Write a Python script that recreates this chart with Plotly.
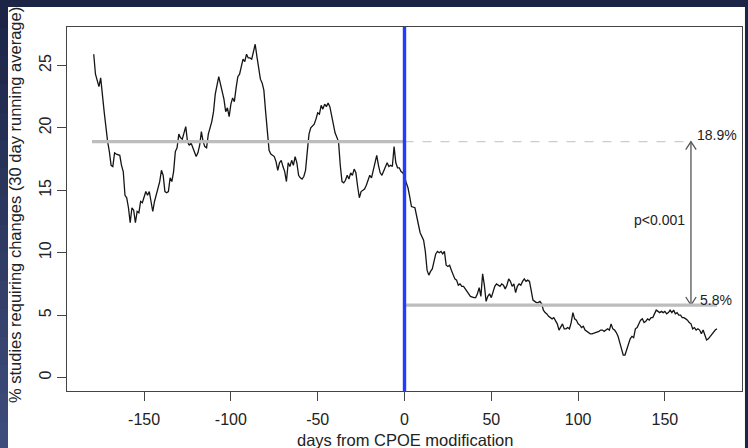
import plotly.graph_objects as go

# 30-day running average of studies requiring changes, by day relative to the CPOE modification
days_pre = [
    -179, -178, -176, -175, -173, -172, -171, -170, -169, -168, -167, -166, -164, -163, -162,
    -161, -160, -159, -158, -157, -156, -155, -154, -153, -152, -151, -150, -149, -148, -147,
    -146, -145, -144, -143, -142, -141, -140, -139, -138, -137, -136, -135, -134, -133, -132,
    -131, -130, -129, -128, -127, -126, -125, -124, -123, -122, -121, -120, -119, -118, -117,
    -116, -115, -114, -113, -112, -111, -110, -109, -107, -106, -105, -104, -103, -102, -101,
    -100, -99, -98, -97, -96, -95, -94, -93, -92, -91, -90, -89, -88, -87, -86,
    -85, -84, -83, -82, -81, -80, -79, -78, -77, -76, -75, -74, -73, -72, -71,
    -70, -69, -68, -67, -66, -65, -64, -63, -62, -61, -60, -59, -58, -57, -56,
    -55, -54, -53, -52, -51, -50, -49, -48, -47, -46, -45, -44, -43, -42, -41,
    -40, -39, -38, -37, -36, -35, -34, -33, -32, -31, -30, -29, -28, -27, -26,
    -25, -24, -23, -22, -21, -20, -19, -18, -17, -16, -15, -14, -13, -12, -11,
    -10, -9, -8, -7, -6, -5, -4, -3, -2, -1, 0,
]
pct_pre = [
    25.9, 24.3, 23.3, 24.0, 21.3, 20.0, 18.9, 18.1, 17.0, 16.9, 18.0, 17.9, 17.8, 17.0, 16.5,
    14.6, 14.4, 13.6, 12.4, 13.6, 13.4, 12.4, 13.3, 13.2, 14.1, 14.0, 14.4, 14.9, 14.6, 14.9,
    14.1, 13.3, 14.1, 14.6, 15.2, 15.7, 16.6, 16.2, 14.9, 14.8, 14.9, 16.0, 15.7, 16.5, 18.1,
    18.4, 19.5, 19.2, 19.1, 19.7, 20.1, 18.9, 18.6, 18.8, 18.4, 18.1, 17.7, 18.0, 18.6, 19.7,
    18.9, 18.5, 18.4, 19.5, 20.0, 20.5, 21.3, 22.7, 24.1, 23.5, 23.1, 22.3, 21.3, 21.6, 20.9,
    21.9, 22.4, 22.1, 23.2, 24.1, 24.3, 24.8, 25.5, 25.3, 25.9, 25.6, 25.6, 25.5, 26.2, 26.7,
    25.7, 24.8, 23.9, 23.6, 23.0, 21.3, 19.6, 18.2, 17.9, 17.8, 17.7, 17.3, 16.6, 17.2, 17.4,
    16.9, 16.5, 15.7, 17.2, 16.9, 17.4, 17.0, 17.7, 17.2, 16.2, 16.0, 15.9, 16.1, 16.6, 18.1,
    19.5, 20.0, 20.2, 20.3, 20.7, 21.2, 21.1, 21.8, 21.5, 21.9, 21.7, 22.0, 21.7, 21.1, 20.3,
    19.6, 19.3, 18.9, 17.0, 15.7, 15.6, 15.8, 16.2, 15.9, 16.4, 16.2, 16.7, 16.4, 15.3, 14.4,
    14.9, 15.0, 15.1, 15.4, 15.8, 16.2, 16.0, 16.6, 17.0, 17.8, 17.0, 16.4, 16.2, 16.5, 16.9,
    17.2, 16.9, 17.0, 16.9, 18.5, 17.2, 16.8, 16.8, 16.5, 16.4, 16.1,
]
days_post = [
    1, 2, 3, 4, 6, 7, 8, 9, 11, 12, 13, 14, 15, 16, 17,
    18, 19, 20, 21, 22, 23, 24, 25, 26, 27, 28, 29, 30, 31, 32,
    33, 34, 35, 36, 37, 38, 40, 41, 42, 43, 44, 45, 46, 47, 48,
    49, 50, 51, 52, 53, 54, 55, 56, 57, 58, 59, 60, 61, 62, 63,
    64, 65, 66, 67, 68, 69, 70, 71, 72, 73, 74, 75, 76, 77, 78,
    79, 80, 81, 82, 83, 84, 85, 86, 87, 88, 89, 90, 91, 92, 93,
    94, 95, 96, 97, 98, 99, 100, 101, 102, 103, 104, 105, 106, 107, 108,
    110, 111, 112, 113, 114, 115, 116, 117, 118, 119, 120, 121, 122, 123, 124,
    125, 126, 127, 128, 129, 130, 131, 132, 133, 134, 135, 136, 137, 138, 139,
    140, 141, 142, 143, 144, 145, 146, 147, 148, 149, 150, 151, 152, 153, 154,
    155, 156, 157, 158, 159, 160, 161, 162, 163, 164, 165, 166, 167, 168, 169,
    170, 171, 172, 173, 174, 175, 176, 177, 178, 179, 180,
]
pct_post = [
    15.6, 15.2, 14.5, 13.7, 13.6, 12.9, 12.0, 11.6, 11.0, 10.1, 8.6, 8.2, 8.5, 8.7, 9.3,
    9.9, 10.1, 10.0, 10.1, 9.9, 10.1, 9.0, 8.9, 9.0, 8.6, 8.2, 7.9, 7.8, 7.4, 7.5,
    7.3, 7.3, 7.1, 6.9, 6.6, 6.5, 6.4, 6.4, 6.7, 7.2, 6.5, 8.3, 7.4, 6.1, 6.5,
    6.7, 6.4, 6.9, 7.3, 7.5, 7.4, 7.3, 7.5, 7.4, 7.1, 7.4, 7.9, 7.7, 7.3, 7.5,
    6.8, 7.3, 7.5, 7.4, 7.7, 7.9, 7.7, 7.8, 7.7, 7.0, 6.2, 6.1, 6.0, 6.0, 6.1,
    5.9, 5.4, 5.2, 5.1, 4.9, 4.8, 4.7, 4.8, 4.6, 4.3, 3.8, 4.0, 4.3, 3.9, 3.9,
    4.0, 3.9, 4.4, 5.2, 4.7, 4.6, 4.3, 4.2, 4.0, 4.1, 3.8, 3.7, 3.6, 3.5, 3.5,
    3.6, 3.6, 3.7, 3.8, 3.8, 3.7, 3.8, 3.9, 3.8, 4.3, 3.9, 3.8, 3.6, 3.3, 2.8,
    2.3, 1.8, 1.8, 2.2, 2.7, 3.1, 3.3, 3.2, 3.9, 4.0, 4.3, 4.6, 4.7, 4.4, 4.5,
    4.7, 4.6, 4.8, 4.8, 5.1, 5.4, 5.3, 5.2, 5.3, 5.2, 5.3, 5.1, 5.2, 5.4, 5.2,
    5.4, 5.1, 5.2, 5.0, 5.0, 4.8, 4.8, 4.7, 4.6, 4.4, 4.3, 3.9, 4.0, 3.8, 3.9,
    3.8, 3.5, 3.8, 3.4, 3.0, 3.1, 3.3, 3.5, 3.6, 3.8, 3.9,
]

# Period means and annotation settings
mean_pre = 18.9
mean_post = 5.8
period_start, switch_day, period_end = -180, 0, 180
arrow_day = 165
p_label = "p<0.001"

x_ticks = [-150, -100, -50, 0, 50, 100, 150]
y_ticks = [0, 5, 10, 15, 20, 25]
x_range = [-194.4, 194.4]
y_range = [-1.08, 28.08]

FONT = "Liberation Sans, Arial, Helvetica, sans-serif"
GRAY = "#bdbdbd"
ARROW = "#555555"
TEXT = "#222222"

fig = go.Figure()

fig.add_trace(go.Scatter(
    x=days_pre + days_post, y=pct_pre + pct_post, mode="lines",
    line=dict(color="#151515", width=1.3), hoverinfo="skip", showlegend=False,
))

# double-headed arrow between the two period means
head_w, head_h = 3.0, 0.65
fig.add_trace(go.Scatter(
    x=[arrow_day, arrow_day], y=[mean_post, mean_pre], mode="lines",
    line=dict(color=ARROW, width=1.3), hoverinfo="skip", showlegend=False,
))
fig.add_trace(go.Scatter(
    x=[arrow_day - head_w, arrow_day, arrow_day + head_w],
    y=[mean_pre - head_h, mean_pre, mean_pre - head_h], mode="lines",
    line=dict(color=ARROW, width=1.3), hoverinfo="skip", showlegend=False,
))
fig.add_trace(go.Scatter(
    x=[arrow_day - head_w, arrow_day, arrow_day + head_w],
    y=[mean_post + head_h, mean_post, mean_post + head_h], mode="lines",
    line=dict(color=ARROW, width=1.3), hoverinfo="skip", showlegend=False,
))

# page frame: dark band on top, left strip shading from navy to slate blue
frame_shapes = []
n_steps = 16
top_rgb, bot_rgb = (0x1c, 0x25, 0x46), (0x3e, 0x4c, 0x7b)
y_top, y_bot = 1.075, -0.16
for i in range(n_steps):
    t = i / (n_steps - 1)
    rgb = tuple(round(a + (b - a) * t) for a, b in zip(top_rgb, bot_rgb))
    y1 = y_top + (y_bot - y_top) * i / n_steps
    y0 = y_top + (y_bot - y_top) * (i + 1) / n_steps
    frame_shapes.append(dict(
        type="rect", xref="paper", yref="paper", x0=-0.1, x1=-0.0874, y0=y0 - 0.002, y1=y1,
        fillcolor="rgb(%d,%d,%d)" % rgb, line=dict(width=0), layer="below"))

shapes = frame_shapes + [
    # white panel over the dark page background
    dict(type="rect", xref="paper", yref="paper", x0=-0.0874, x1=1.0044, y0=-0.16, y1=1.055,
         fillcolor="white", line=dict(width=0), layer="below"),
    # pre-period mean, its dashed continuation, post-period mean
    dict(type="line", xref="x", yref="y", x0=period_start, x1=switch_day, y0=mean_pre, y1=mean_pre,
         line=dict(color=GRAY, width=3.4), layer="above"),
    dict(type="line", xref="x", yref="y", x0=switch_day, x1=arrow_day, y0=mean_pre, y1=mean_pre,
         line=dict(color="#cccccc", width=1.3, dash="dash"), layer="above"),
    dict(type="line", xref="x", yref="y", x0=switch_day, x1=period_end, y0=mean_post, y1=mean_post,
         line=dict(color=GRAY, width=3.4), layer="above"),
    # modification day
    dict(type="line", xref="x", yref="paper", x0=switch_day, x1=switch_day, y0=0, y1=1,
         line=dict(color="#1f3cff", width=3.4), layer="above"),
]

annotations = [
    dict(x=arrow_day + 2.5, y=mean_pre + 0.5, xref="x", yref="y", text=f"{mean_pre}%",
         showarrow=False, xanchor="left", yanchor="middle", font=dict(size=14, color=TEXT)),
    dict(x=arrow_day + 4, y=mean_post + 0.4, xref="x", yref="y", text=f"{mean_post}%",
         showarrow=False, xanchor="left", yanchor="middle", font=dict(size=14, color=TEXT)),
    dict(x=arrow_day - 2.5, y=(mean_pre + mean_post) / 2 + 0.3, xref="x", yref="y", text=p_label,
         showarrow=False, xanchor="right", yanchor="middle", font=dict(size=14, color=TEXT)),
    dict(x=0, y=-0.135, xref="x", yref="paper", text="days from CPOE modification",
         showarrow=False, xanchor="center", yanchor="middle", font=dict(size=16.5, color=TEXT)),
    dict(x=-0.077, y=0.511, xref="paper", yref="paper",
         text="% studies requiring changes (30 day running average)", textangle=-90,
         showarrow=False, xanchor="center", yanchor="middle", font=dict(size=16.5, color=TEXT)),
]

fig.update_layout(
    width=748, height=448,
    margin=dict(l=67, r=6, t=27, b=57),
    paper_bgcolor="#1c2546", plot_bgcolor="white",
    font=dict(family=FONT, color=TEXT),
    shapes=shapes, annotations=annotations, showlegend=False,
)
fig.update_xaxes(
    range=x_range, tickvals=x_ticks, ticktext=[str(v) for v in x_ticks],
    showgrid=False, zeroline=False, showline=True, mirror=True, linecolor="#444", linewidth=1,
    ticks="outside", ticklen=9, tickcolor="#444", tickfont=dict(size=16, color=TEXT),
    ticklabelstandoff=5,
)
fig.update_yaxes(
    range=y_range, tickvals=y_ticks, ticktext=[str(v) for v in y_ticks], tickangle=-90,
    showgrid=False, zeroline=False, showline=True, mirror=True, linecolor="#444", linewidth=1,
    ticks="outside", ticklen=9, tickcolor="#444", tickfont=dict(size=16, color=TEXT),
)

fig.write_html("out.html")
